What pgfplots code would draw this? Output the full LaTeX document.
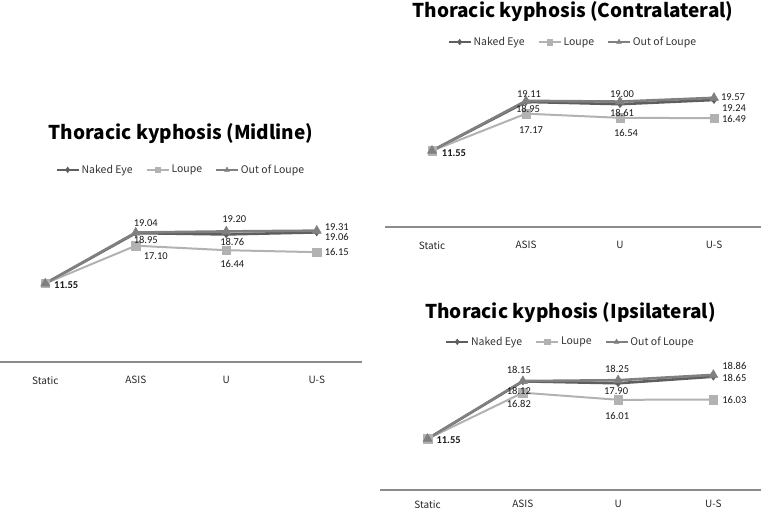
\documentclass[border=0pt]{standalone}
\usepackage{pgfplots}
\usepackage{pgfplotstable}
\pgfplotsset{compat=1.18}
\usepackage{fontspec}
\setmainfont{Noto Sans CJK KR}
\newfontfamily\labfont{Carlito}

\definecolor{nakedc}{HTML}{5E5E5E}
\definecolor{loupec}{HTML}{B2B2B2}
\definecolor{outc}{HTML}{808080}
\definecolor{axc}{HTML}{8C8C8C}

% columns: category, value, label offset (px, right / down), label text
\pgfplotstableread{
x y dx dy lab
0 11.55 0 0 {}
1 18.95 10 7 18.95
2 18.76 6 8 18.76
3 19.06 20 5 19.06
}\midN
\pgfplotstableread{
x y dx dy lab
0 11.55 0 0 {}
1 17.10 20 10 17.10
2 16.44 6 14 16.44
3 16.15 20 0 16.15
}\midL
\pgfplotstableread{
x y dx dy lab
0 11.55 21 1.5 \textbf{11.55}
1 19.04 10 -9.5 19.04
2 19.20 8 -12 19.20
3 19.31 20 -4 19.31
}\midO

\pgfplotstableread{
x y dx dy lab
0 11.55 0 0 {}
1 18.95 2 7 18.95
2 18.61 2 9 18.61
3 19.24 20 8 19.24
}\conN
\pgfplotstableread{
x y dx dy lab
0 11.55 0 0 {}
1 17.17 5 16 17.17
2 16.54 6 15 16.54
3 16.49 20 1 16.49
}\conL
\pgfplotstableread{
x y dx dy lab
0 11.55 22 2 \textbf{11.55}
1 19.11 3 -7 19.11
2 19.00 2 -7 19.00
3 19.57 19 -1 19.57
}\conO

\pgfplotstableread{
x y dx dy lab
0 11.55 0 0 {}
1 18.12 -4 10 18.12
2 17.90 -2 8 17.90
3 18.65 21 1 18.65
}\ipsN
\pgfplotstableread{
x y dx dy lab
0 11.55 0 0 {}
1 16.82 -4 11 16.82
2 16.01 -1 16 16.01
3 16.03 21 0 16.03
}\ipsL
\pgfplotstableread{
x y dx dy lab
0 11.55 21 1 \textbf{11.55}
1 18.15 -4 -11 18.15
2 18.25 -1 -11 18.25
3 18.86 21 -9 18.86
}\ipsO

\pgfplotsset{
  panel/.style={
    scale only axis, anchor=south west, clip=false,
    xmin=-0.5, xmax=3.5,
    xtick={0,1,2,3}, xticklabels={Static,ASIS,U,U-S},
    ytick=\empty,
    axis x line=bottom, axis y line=none,
    x axis line style={-, draw=axc, line width=1.5pt},
    major tick length=0pt,
    xticklabel style={font=\fontsize{10}{12}\selectfont, text=black!85, yshift=-11pt},
    title style={anchor=center, font=\bfseries\fontsize{19}{22}\selectfont},
    legend columns=3,
    legend style={draw=none, fill=none, anchor=center,
      font=\fontsize{10.5}{12}\selectfont, text=black!80,
      /tikz/every even column/.append style={column sep=11pt}},
    legend image code/.code={\draw[mark repeat=2,mark phase=2,#1]
      plot coordinates {(0pt,0pt) (11pt,0pt) (22pt,0pt)};},
    legend image post style={line width=1.8pt, mark size=2.8pt},
  },
  labels/.style={forget plot, draw=none, mark=none,
    point meta=explicit symbolic,
    nodes near coords,
    visualization depends on={\thisrow{dx} \as \lx},
    visualization depends on={\thisrow{dy} \as \ly},
    nodes near coords style={font=\labfont\fontsize{10.5}{12}\selectfont,
      text=black!90, anchor=center, inner sep=0pt,
      xshift=\lx pt, yshift=-\ly pt}},
  naked/.style={draw=nakedc, line width=2.6pt, mark=diamond*, mark size=3.5pt,
    mark options={fill=nakedc, draw=nakedc, line width=0.5pt}},
  loupe/.style={draw=loupec, line width=2pt, mark=square*, mark size=4.2pt,
    mark options={fill=loupec, draw=loupec, line width=0.5pt}},
  out/.style={draw=outc, line width=2.6pt, mark=triangle*, mark size=5.2pt,
    mark options={fill=outc, draw=outc, line width=0.5pt}},
}

\begin{document}
\begin{tikzpicture}
\useasboundingbox (0,0) rectangle (761pt,510pt);

% Midline
\begin{axis}[panel, at={(0pt,148pt)}, width=362pt, height=170pt,
  ymin=0, ymax=25,
  title={Thoracic kyphosis (Midline)}, title style={at={(0.5,1.306)}},
  legend style={at={(0.5,1.13)}}]
\addplot[naked] table[x=x,y=y] {\midN};
\addlegendentry{Naked Eye}
\addplot[loupe] table[x=x,y=y] {\midL};
\addlegendentry{Loupe}
\addplot[out] table[x=x,y=y] {\midO};
\addlegendentry{Out of Loupe}
\addplot[labels] table[x=x,y=y,meta=lab] {\midN};
\addplot[labels] table[x=x,y=y,meta=lab] {\midL};
\addplot[labels] table[x=x,y=y,meta=lab] {\midO};
\end{axis}

% Contralateral
\begin{axis}[panel, at={(385pt,283pt)}, width=376pt, height=165pt,
  ymin=0, ymax=25,
  title={Thoracic kyphosis (Contralateral)}, title style={at={(0.5,1.267)}},
  legend style={at={(0.5,1.121)}}]
\addplot[naked] table[x=x,y=y] {\conN};
\addlegendentry{Naked Eye}
\addplot[loupe] table[x=x,y=y] {\conL};
\addlegendentry{Loupe}
\addplot[out] table[x=x,y=y] {\conO};
\addlegendentry{Out of Loupe}
\addplot[labels] table[x=x,y=y,meta=lab] {\conN};
\addplot[labels] table[x=x,y=y,meta=lab] {\conL};
\addplot[labels] table[x=x,y=y,meta=lab] {\conO};
\end{axis}

% Ipsilateral
\begin{axis}[panel, at={(380pt,20pt)}, width=381pt, height=125.1pt,
  ymin=5.7, ymax=20,
  xticklabel style={yshift=4pt},
  title={Thoracic kyphosis (Ipsilateral)}, title style={at={(0.5,1.368)}},
  legend style={at={(0.5,1.184)}}]
\addplot[naked] table[x=x,y=y] {\ipsN};
\addlegendentry{Naked Eye}
\addplot[loupe] table[x=x,y=y] {\ipsL};
\addlegendentry{Loupe}
\addplot[out] table[x=x,y=y] {\ipsO};
\addlegendentry{Out of Loupe}
\addplot[labels] table[x=x,y=y,meta=lab] {\ipsN};
\addplot[labels] table[x=x,y=y,meta=lab] {\ipsL};
\addplot[labels] table[x=x,y=y,meta=lab] {\ipsO};
\end{axis}
\end{tikzpicture}
\end{document}
